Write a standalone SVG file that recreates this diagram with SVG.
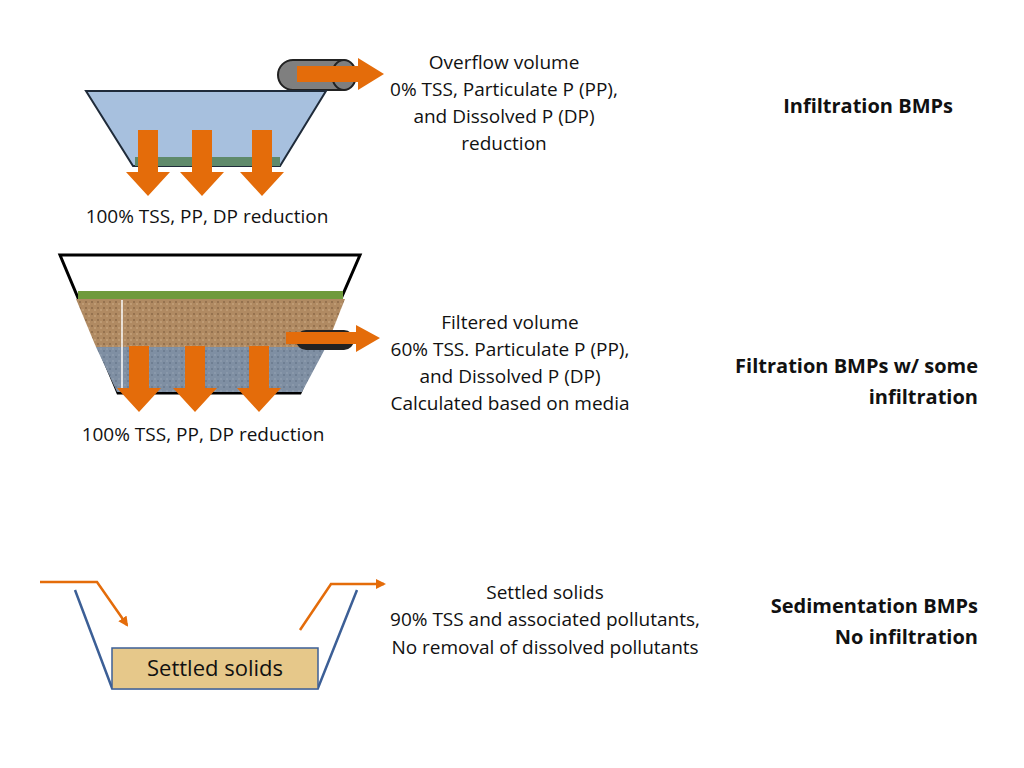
<svg xmlns="http://www.w3.org/2000/svg" width="1024" height="768" viewBox="0 0 1024 768">
<defs>
<style>
text{font-family:"Open Sans","Liberation Sans",sans-serif;font-size:19px;fill:#111}
.b{font-weight:bold;font-size:20px}
.o{fill:#e46c0a}
</style>
<marker id="ah" viewBox="0 0 10 10" refX="8" refY="5" markerWidth="4" markerHeight="4" orient="auto"><path d="M0,0L10,5L0,10z" fill="#e46c0a"/></marker>
<symbol id="da" overflow="visible"><path d="M-10,0H10V42H22L0,66L-22,42H-10z" class="o"/></symbol>
<pattern id="sand" width="6" height="6" patternUnits="userSpaceOnUse"><rect width="6" height="6" fill="#b08a62"/><circle cx="2" cy="2" r="1" fill="#8c6a48"/><circle cx="5" cy="4" r="0.8" fill="#d0b08a"/></pattern>
<pattern id="grav" width="6" height="6" patternUnits="userSpaceOnUse"><rect width="6" height="6" fill="#7f8fa3"/><circle cx="2" cy="3" r="1" fill="#6a7a8e"/><circle cx="5" cy="1" r="0.8" fill="#98a6b6"/></pattern>
</defs>
<g id="infiltration">
<rect x="278" y="60" width="78" height="30" rx="15" fill="#7f7f7f" stroke="#222" stroke-width="2"/>
<ellipse cx="344" cy="75" rx="12" ry="15" fill="#7f7f7f" stroke="#222" stroke-width="2"/>
<path d="M86,91H326L280,166H133z" fill="#a7c0de" stroke="#1f2b3a" stroke-width="2"/>
<rect x="135" y="157" width="145" height="9" fill="#5f8a6b"/>
<path d="M297,66H358V58L384,74L358,90V82H297z" class="o"/>
<use href="#da" x="148" y="130"/><use href="#da" x="202" y="130"/><use href="#da" x="262" y="130"/>
</g>
<g id="filtration">
<path d="M60,255H360L300,393H118z" fill="#fff" stroke="#000" stroke-width="3"/>
<path d="M76,299H345L326,347H96z" fill="url(#sand)"/>
<path d="M96,347H326L302,392H117z" fill="url(#grav)"/>
<rect x="78" y="291" width="265" height="8" fill="#6f9a3c"/>
<line x1="122" y1="300" x2="122" y2="390" stroke="#fff" stroke-width="1.5"/>
<rect x="296" y="330" width="58" height="20" rx="10" fill="#222"/>
<path d="M286,332H356V325L380,338L356,352V344H286z" class="o"/>
<use href="#da" x="139" y="358" transform="translate(0,-12) "/><use href="#da" x="195" y="346"/><use href="#da" x="259" y="346"/>
</g>
<g id="sedimentation">
<path d="M75,590L112,688H318L357,590" fill="none" stroke="#3c5f96" stroke-width="2.5"/>
<rect x="112" y="648" width="206" height="41" fill="#e6c88a" stroke="#3c5f96" stroke-width="1.5"/>
<text x="215" y="676" text-anchor="middle" style="font-size:22px">Settled solids</text>
</g>
<g id="connectors" fill="none" stroke="#e46c0a" stroke-width="2.5">
<path d="M40,582H97L127,625" marker-end="url(#ah)"/>
<path d="M300,630L331,584H384" marker-end="url(#ah)"/>
</g>
<g id="labels" text-anchor="middle">
<text x="504" y="69">Overflow volume</text>
<text x="504" y="96">0% TSS, Particulate P (PP),</text>
<text x="504" y="123">and Dissolved P (DP)</text>
<text x="504" y="150">reduction</text>
<text x="207" y="223">100% TSS, PP, DP reduction</text>
<text x="510" y="329">Filtered volume</text>
<text x="510" y="356">60% TSS. Particulate P (PP),</text>
<text x="510" y="383">and Dissolved P (DP)</text>
<text x="510" y="410">Calculated based on media</text>
<text x="203" y="441">100% TSS, PP, DP reduction</text>
<text x="545" y="599">Settled solids</text>
<text x="545" y="626">90% TSS and associated pollutants,</text>
<text x="545" y="654">No removal of dissolved pollutants</text>
<text x="953" y="113" class="b" text-anchor="end">Infiltration BMPs</text>
<text x="978" y="373" class="b" text-anchor="end">Filtration BMPs w/ some</text>
<text x="978" y="404" class="b" text-anchor="end">infiltration</text>
<text x="978" y="613" class="b" text-anchor="end">Sedimentation BMPs</text>
<text x="978" y="644" class="b" text-anchor="end">No infiltration</text>
</g>
</svg>
